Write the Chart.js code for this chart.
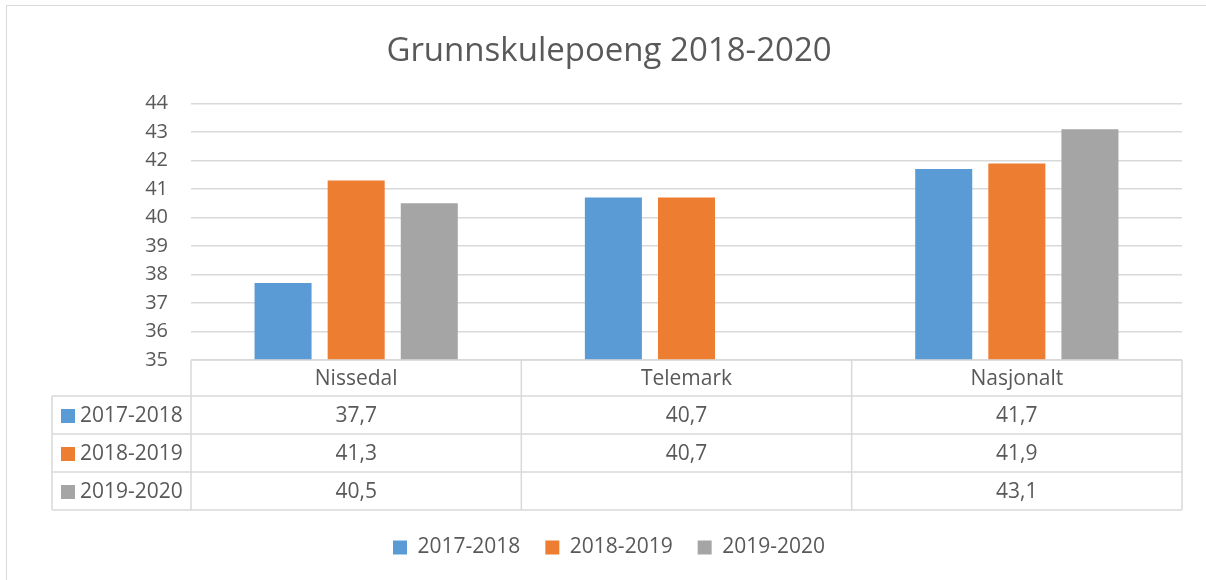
<!DOCTYPE html>
<html>
<head>
<meta charset="utf-8">
<script src="https://cdn.jsdelivr.net/npm/chart.js@4"></script>
<style>
  html, body { margin: 0; padding: 0; background: #fff; }
  #frame { position: absolute; left: 6px; top: 5px; width: 1240px; height: 620px; border: 1px solid #d9d9d9; }
  #wrap { position: absolute; left: 0; top: 0; width: 1206px; height: 580px; }
</style>
</head>
<body>
<div id="frame"></div>
<div id="wrap"><canvas id="myChart"></canvas></div>
<script>
// data
const categories = ['Nissedal', 'Telemark', 'Nasjonalt'];
const seriesNames = ['2017-2018', '2018-2019', '2019-2020'];
const values2017 = [37.7, 40.7, 41.7];
const values2018 = [41.3, 40.7, 41.9];
const values2019 = [40.5, null, 43.1];
const colors = ['#5b9bd5', '#ed7d31', '#a5a5a5'];
const yTicks = [35, 36, 37, 38, 39, 40, 41, 42, 43, 44];

const textColor = '#595959';
const lineColor = '#d9d9d9';
const fontFamily = '"Open Sans", sans-serif';

const fmt = (v) => (v === null || v === undefined) ? '' : v.toFixed(1).replace('.', ',');

// draws the Excel style data table under the plot
const dataTable = {
    id: 'dataTable',
    afterDraw(chart) {
        const ctx = chart.ctx;
        const area = chart.chartArea;
        const headerH = 36;
        const rowH = 38;
        const labelLeft = 52;
        const top = area.bottom;
        const colW = (area.right - area.left) / categories.length;
        const nRows = chart.data.datasets.length;
        const bottom = top + headerH + rowH * nRows;

        ctx.save();
        ctx.strokeStyle = lineColor;
        ctx.lineWidth = 1.5;
        ctx.beginPath();
        // header top
        ctx.moveTo(area.left, top);
        ctx.lineTo(area.right, top);
        // row lines
        for (let r = 0; r <= nRows; r++) {
            const y = top + headerH + r * rowH;
            ctx.moveTo(labelLeft, y);
            ctx.lineTo(area.right, y);
        }
        // verticals
        for (let c = 0; c <= categories.length; c++) {
            const x = area.left + c * colW;
            ctx.moveTo(x, top);
            ctx.lineTo(x, bottom);
        }
        ctx.moveTo(labelLeft, top + headerH);
        ctx.lineTo(labelLeft, bottom);
        ctx.stroke();

        ctx.fillStyle = textColor;
        ctx.font = '21px ' + fontFamily;
        ctx.textAlign = 'center';
        ctx.textBaseline = 'middle';
        categories.forEach((cat, i) => {
            ctx.fillText(cat, area.left + colW * (i + 0.5), top + headerH / 2 + 1);
        });

        chart.data.datasets.forEach((ds, r) => {
            const yMid = top + headerH + rowH * (r + 0.5) + 1;
            ctx.fillStyle = ds.backgroundColor;
            ctx.fillRect(labelLeft + 9, yMid - 7, 14, 14);
            ctx.fillStyle = textColor;
            ctx.textAlign = 'left';
            ctx.fillText(ds.label, labelLeft + 28, yMid);
            ctx.textAlign = 'center';
            ds.data.forEach((v, i) => {
                ctx.fillText(fmt(v), area.left + colW * (i + 0.5), yMid);
            });
        });
        ctx.restore();
    }
};

const chartContext = document.getElementById('myChart').getContext('2d');
new Chart(chartContext, {
    type: 'bar',
    data: {
        labels: categories,
        datasets: [
            { label: seriesNames[0], data: values2017, backgroundColor: colors[0] },
            { label: seriesNames[1], data: values2018, backgroundColor: colors[1] },
            { label: seriesNames[2], data: values2019, backgroundColor: colors[2] },
        ],
    },
    options: {
        responsive: true,
        maintainAspectRatio: false,
        animation: false,
        datasets: {
            bar: { categoryPercentage: 0.664, barPercentage: 0.78 }
        },
        layout: { padding: { left: 36, right: 24, top: 0, bottom: 12 } },
        plugins: {
            title: {
                display: true,
                text: 'Grunnskulepoeng 2018-2020',
                color: textColor,
                font: { family: fontFamily, size: 33, weight: 'normal' },
                padding: { top: 32, bottom: 32 }
            },
            legend: {
                position: 'bottom',
                labels: {
                    color: textColor,
                    boxWidth: 14,
                    boxHeight: 14,
                    padding: 25,
                    font: { family: fontFamily, size: 21 }
                }
            },
            tooltip: { enabled: false }
        },
        scales: {
            x: {
                grid: { display: false },
                border: { display: false },
                ticks: { display: false },
                afterFit: (scale) => { scale.height = 152; }
            },
            y: {
                min: yTicks[0],
                max: yTicks[yTicks.length - 1],
                afterBuildTicks: (scale) => { scale.ticks = yTicks.map((v) => ({ value: v })); },
                grid: { color: lineColor, lineWidth: 1.5, drawTicks: false },
                border: { display: false },
                ticks: {
                    color: textColor,
                    padding: 23,
                    font: { family: fontFamily, size: 20 }
                },
                afterFit: (scale) => { scale.width = 155; }
            }
        }
    },
    plugins: [dataTable]
});
</script>
</body>
</html>
